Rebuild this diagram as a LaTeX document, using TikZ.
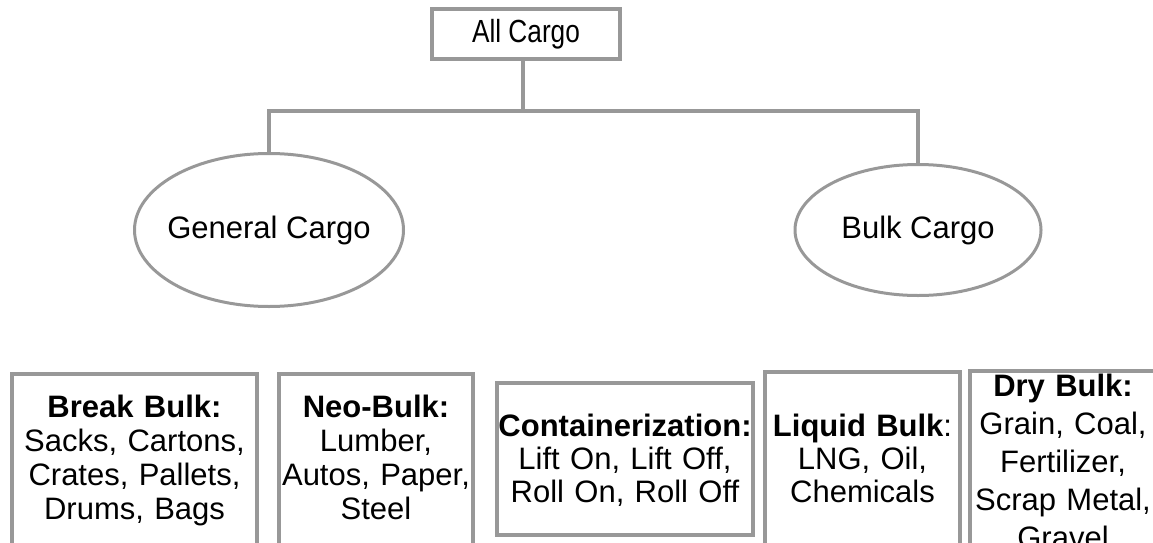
\documentclass[tikz,border=0pt]{standalone}
\usepackage{fontspec}
\setmainfont{Liberation Sans}
\newfontfamily\narrowfont[FakeStretch=0.82]{Liberation Sans}
\usetikzlibrary{shapes.geometric, positioning}

\definecolor{framegray}{HTML}{989898}

\tikzset{
  link/.style={draw=framegray, line width=3.5pt},
  rootbox/.style={draw=framegray, line width=4pt, font=\narrowfont\fontsize{32}{34}\selectfont},
  kind/.style={ellipse, draw=framegray, line width=3pt, inner xsep=-20pt, inner ysep=0pt,
    font=\fontsize{31}{34}\selectfont},
  tile/.style={draw=framegray, line width=4pt, align=center, anchor=north,
    inner sep=0pt, text depth=200pt, font=\fontsize{31}{#1}\selectfont},
  tile/.default=34pt,
}

\begin{document}
\begin{tikzpicture}[x=1pt, y=-1pt]
  \useasboundingbox (0,0) rectangle (1153,543);
  \clip (0,0) rectangle (1153,543);

  \node (all)     [rootbox, minimum width=188pt, minimum height=50pt] at (526,34) {All Cargo};
  \node (general) [kind, minimum width=269pt, minimum height=153pt] at (269,230) {General Cargo};
  \node (bulk)    [kind, minimum width=246pt, minimum height=131pt] at (918,230) {Bulk Cargo};

  \coordinate (bus) at (523,111);
  \draw[link] (bus |- all.south) -- (bus);
  \foreach \k in {general, bulk}
    \draw[link] (bus) -| (\k.north);

  \node (breakbulk) [tile, text width=245pt, text height=43pt] at (134.5,372)
    {\textbf{Break Bulk:}\\ Sacks, Cartons,\\ Crates, Pallets,\\ Drums, Bags};
  \node (neobulk)   [tile, text width=194pt, text height=43pt] at (376,372)
    {\textbf{Neo-Bulk:}\\ Lumber,\\ Autos, Paper,\\ Steel};
  \node (container) [tile=33pt, text width=256pt, text height=53pt, text depth=99pt] at (625,381)
    {\textbf{Containerization:}\\ Lift On, Lift Off,\\ Roll On, Roll Off};
  \node (liquid)    [tile=33pt, text width=195pt, text height=64pt] at (862.5,370)
    {\textbf{Liquid Bulk}:\\ LNG, Oil,\\ Chemicals};
  \node (drybulk)   [tile=38pt, text width=186pt, text height=25pt] at (1063,369)
    {\textbf{Dry Bulk:}\\ Grain, Coal,\\ Fertilizer,\\ Scrap Metal,\\ Gravel};
\end{tikzpicture}
\end{document}
